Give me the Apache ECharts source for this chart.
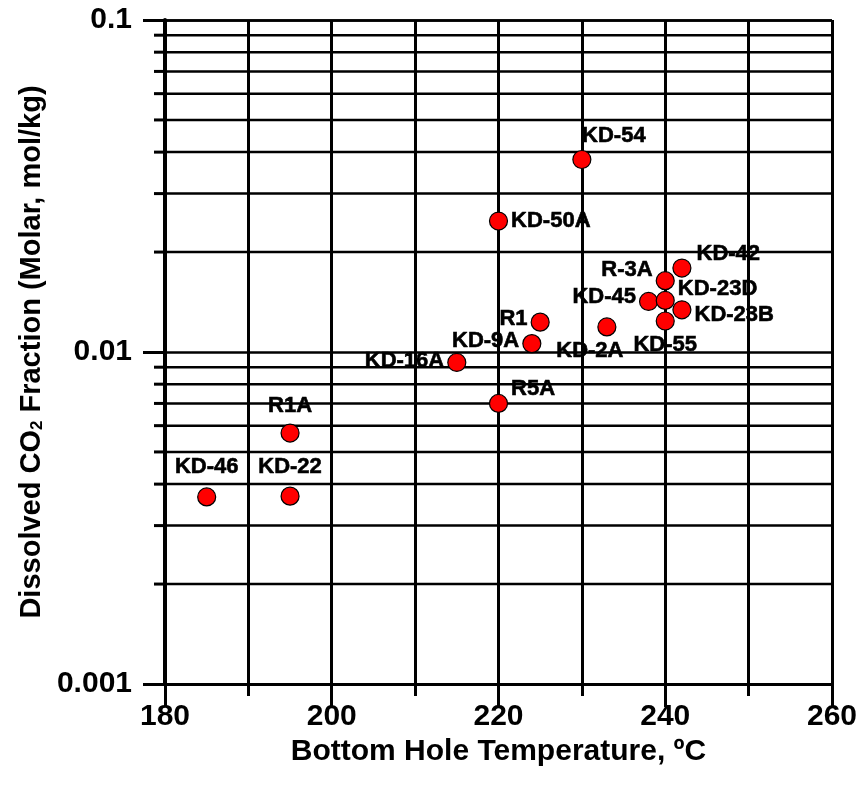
<!DOCTYPE html>
<html>
<head>
<meta charset="utf-8">
<script src="https://cdn.jsdelivr.net/npm/echarts@6/dist/echarts.min.js"></script>
<style>
  html, body { margin: 0; padding: 0; background: #fff; }
  #chart { width: 860px; height: 787px; }
</style>
</head>
<body>
<div id="chart"></div>
<script>
// well names, bottom hole temperature (°C) and dissolved CO2 (mol/kg)
const wells = ['KD-54', 'KD-50A', 'KD-42', 'R-3A', 'KD-45', 'KD-23D', 'KD-23B', 'KD-55',
  'R1', 'KD-2A', 'KD-9A', 'KD-16A', 'R5A', 'R1A', 'KD-46', 'KD-22'];
const temps = [230, 220, 242, 240, 238, 240, 242, 240, 225, 233, 224, 215, 220, 195, 185, 195];
const co2 = [0.038, 0.0248, 0.0179, 0.0164, 0.0142, 0.0143, 0.0134, 0.0124,
  0.0123, 0.0119, 0.0106, 0.0093, 0.0070, 0.0057, 0.00366, 0.00368];

const xTicks = [180, 200, 220, 240, 260];
const yTickLabels = ['0.001', '0.01', '0.1'];
const yMinorValues = [0.002, 0.003, 0.004, 0.005, 0.006, 0.007, 0.008, 0.009,
  0.02, 0.03, 0.04, 0.05, 0.06, 0.07, 0.08, 0.09];

// where each label sits around its marker
const labelPlace = {
  'KD-54': ['top', [32, 0]],
  'KD-50A': ['right', [0, 0]],
  'KD-42': ['right', [2, -14]],
  'R-3A': ['left', [0, -11]],
  'KD-45': ['left', [0, -5]],
  'KD-23D': ['right', [0, -11]],
  'KD-23B': ['right', [0, 5]],
  'KD-55': ['bottom', [0, 0]],
  'R1': ['left', [0, -3]],
  'KD-2A': ['bottom', [-17, 0]],
  'KD-9A': ['left', [0, -3]],
  'KD-16A': ['left', [0, -2]],
  'R5A': ['right', [0, -14]],
  'R1A': ['top', [0, -4]],
  'KD-46': ['top', [0, -6]],
  'KD-22': ['top', [0, -6]]
};

const font = 'Liberation Sans, Arial, sans-serif';
const xMin = xTicks[0], xMax = xTicks[xTicks.length - 1];

const chart = echarts.init(document.getElementById('chart'));

const points = wells.map((name, i) => ({
  name: name,
  value: [temps[i], co2[i]],
  label: {
    position: labelPlace[name][0],
    offset: labelPlace[name][1]
  }
}));

const option = {
  backgroundColor: '#fff',
  animation: false,
  grid: { left: 165, right: 27, top: 20, bottom: 103 },
  xAxis: {
    type: 'value',
    min: xMin,
    max: xMax,
    interval: 20,
    name: 'Bottom Hole Temperature, \u00baC',
    nameLocation: 'middle',
    nameGap: 44,
    nameTextStyle: { fontFamily: font, fontWeight: 'bold', fontSize: 30, color: '#000' },
    axisLine: { lineStyle: { color: '#000', width: 3 } },
    axisTick: { length: 23, lineStyle: { color: '#000', width: 3 } },
    minorTick: { show: true, splitNumber: 2, length: 12, lineStyle: { color: '#000', width: 3 } },
    splitLine: { show: true, lineStyle: { color: '#000', width: 3 } },
    minorSplitLine: { show: true, lineStyle: { color: '#000', width: 3 } },
    axisLabel: { margin: 18, fontFamily: font, fontWeight: 'bold', fontSize: 30, color: '#000' }
  },
  yAxis: {
    type: 'log',
    logBase: 10,
    min: 0.001,
    max: 0.1,
    name: '{t|Dissolved CO}{s|2}{t| Fraction (Molar, mol/kg)}',
    nameLocation: 'middle',
    nameGap: 118,
    nameTextStyle: {
      padding: [0, 0, 0, 0],
      rich: {
        t: { fontFamily: font, fontWeight: 'bold', fontSize: 29, color: '#000' },
        s: { fontFamily: font, fontWeight: 'bold', fontSize: 17, color: '#000', verticalAlign: 'bottom' }
      }
    },
    axisLine: { lineStyle: { color: '#000', width: 4 } },
    axisTick: { length: 22, lineStyle: { color: '#000', width: 3 } },
    splitLine: { show: true, lineStyle: { color: '#000', width: 2.5 } },
    axisLabel: {
      margin: 33,
      fontFamily: font, fontWeight: 'bold', fontSize: 30, color: '#000',
      formatter: (v) => yTickLabels[Math.round(Math.log10(v)) + 3]
    }
  },
  series: [
    {
      // minor log grid lines with their short ticks on the left axis
      type: 'custom',
      clip: false,
      silent: true,
      z: 1,
      data: yMinorValues.map(v => [xMin, v]),
      renderItem: (params, api) => {
        const left = api.coord([xMin, api.value(1)]);
        const right = api.coord([xMax, api.value(1)]);
        return {
          type: 'group',
          children: [
            {
              type: 'line',
              shape: { x1: left[0], y1: left[1], x2: right[0], y2: right[1] },
              style: { stroke: '#000', lineWidth: 2.5 }
            },
            {
              type: 'line',
              shape: { x1: left[0] - 11, y1: left[1], x2: left[0], y2: left[1] },
              style: { stroke: '#000', lineWidth: 3 }
            }
          ]
        };
      }
    },
    {
      type: 'scatter',
      z: 3,
      symbol: 'circle',
      symbolSize: 18,
      itemStyle: { color: '#ff0000', borderColor: '#000', borderWidth: 1.2, opacity: 1 },
      label: {
        show: true,
        formatter: '{b}',
        distance: 3,
        fontFamily: font,
        fontWeight: 'bold',
        fontSize: 22,
        color: '#000',
        opacity: 1,
        textBorderColor: '#000',
        textBorderWidth: 0.6
      },
      data: points
    }
  ]
};

chart.setOption(option);
</script>
</body>
</html>
